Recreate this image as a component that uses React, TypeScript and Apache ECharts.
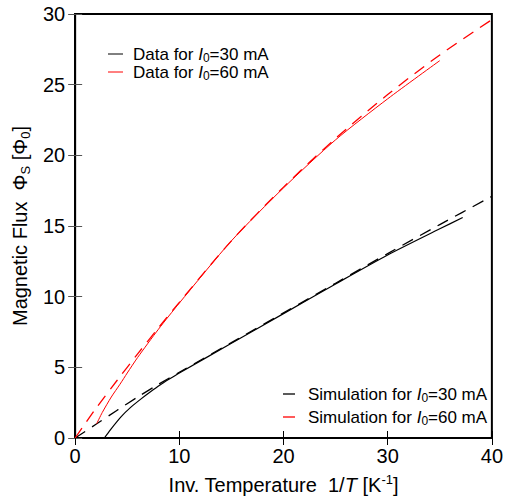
import React, { useEffect, useRef } from "react";
import * as echarts from "echarts";

const xTickValues = [0, 10, 20, 30, 40];
const yTickValues = [0, 5, 10, 15, 20, 25, 30];

const sim30X = [0, 2, 4, 6, 8, 10, 15, 20, 25, 30, 35, 40];
const sim30Y = [0, 0.97, 1.95, 2.9, 3.8, 4.65, 6.75, 8.85, 10.95, 13.05, 15.1, 17.1];

const data30X = [2.8, 3.4, 4.4, 5.3, 6.3, 7.2, 8.15, 9, 10, 15, 20, 25, 30, 35, 37.2];
const data30Y = [0, 0.6, 1.5, 2.15, 2.75, 3.25, 3.75, 4.15, 4.6, 6.7, 8.8, 10.9, 12.95, 14.8, 15.6];

const sim60X = [0, 2, 4, 6, 8, 10, 15, 20, 25, 30, 35, 40];
const sim60Y = [0, 2.1, 4.05, 5.95, 7.8, 9.6, 13.95, 17.75, 21.2, 24.3, 27.1, 29.6];

const data60X = [2.06, 2.6, 3.47, 4.3, 5, 6, 8, 10, 15, 20, 25, 30, 35];
const data60Y = [1.0, 1.8, 2.9, 3.8, 4.6, 5.7, 7.7, 9.55, 13.95, 17.7, 21.1, 24.0, 26.7];

const FONT = "Liberation Sans, Arial, sans-serif";

function pairs(xs: number[], ys: number[]) {
  return xs.map((x, i) => [x, ys[i]]);
}

const rich = (color: string, size: number) => ({
  n: { fontSize: size, fontFamily: FONT, color, lineHeight: 20, verticalAlign: "middle" },
  i: { fontSize: size, fontFamily: FONT, color, fontStyle: "italic", lineHeight: 20, verticalAlign: "middle" },
  s: { fontSize: 12, fontFamily: FONT, color, lineHeight: 12, padding: [10, 0, 0, 0], verticalAlign: "bottom" },
});

export default function App() {
  const ref = useRef<HTMLDivElement>(null);
  useEffect(() => {
    if (!ref.current) return;
    const chart = echarts.init(ref.current, null, { renderer: "svg" });
    const legendItem = (y: number, color: string, dashed: boolean, label: string, lx0: number, lx1: number, tx: number) => [
      {
        type: "line",
        shape: { x1: lx0, y1: y, x2: lx1, y2: y },
        style: { stroke: color, lineWidth: dashed ? 1.3 : 1, lineDash: dashed ? [12, 8] : null },
        silent: true,
      },
      {
        type: "text",
        x: tx,
        y: y,
        style: {
          text: label,
          rich: rich(color, 17),
          verticalAlign: "middle",
          align: "left",
        },
        silent: true,
      },
    ];
    chart.setOption({
      animation: false,
      backgroundColor: "#ffffff",
      grid: { left: 73, right: 6, top: 14, bottom: 59, show: true, borderColor: "#000", borderWidth: 2 },
      xAxis: [
        {
          type: "value",
          min: 0,
          max: 40,
          interval: 10,
          position: "bottom",
          axisLine: { show: true, lineStyle: { color: "#000", width: 2 } },
          axisTick: { show: true, inside: true, length: 7, lineStyle: { color: "#000", width: 1 } },
          splitLine: { show: false },
          axisLabel: {
            fontSize: 20,
            fontFamily: FONT,
            color: "#000",
            margin: 8,
            formatter: (v: number) => (xTickValues.includes(v) ? String(v) : ""),
          },
          name: "{n|Inv. Temperature  1/}{i|T}{n| [K}{p|-1}{n|]}",
          nameLocation: "middle",
          nameGap: 35,
          nameTextStyle: {
            fontSize: 20,
            fontFamily: FONT,
            color: "#000",
            rich: {
              n: { fontSize: 20, fontFamily: FONT, color: "#000", lineHeight: 24, verticalAlign: "middle" },
              i: { fontSize: 20, fontFamily: FONT, color: "#000", fontStyle: "italic", lineHeight: 24, verticalAlign: "middle" },
              p: { fontSize: 13, fontFamily: FONT, color: "#000", lineHeight: 13, padding: [0, 0, 9, 0], verticalAlign: "top" },
            },
          },
        },
        {
          type: "value",
          min: 0,
          max: 40,
          interval: 10,
          position: "top",
          axisLine: { show: true, lineStyle: { color: "#000", width: 2 } },
          axisTick: { show: true, inside: true, length: 7, lineStyle: { color: "#000", width: 1 } },
          splitLine: { show: false },
          axisLabel: { show: false },
        },
      ],
      yAxis: [
        {
          type: "value",
          min: 0,
          max: 30,
          interval: 5,
          position: "left",
          axisLine: { show: true, lineStyle: { color: "#000", width: 2 } },
          axisTick: { show: true, inside: true, length: 7, lineStyle: { color: "#555", width: 1 } },
          splitLine: { show: false },
          axisLabel: {
            fontSize: 20,
            fontFamily: FONT,
            color: "#000",
            margin: 10,
            formatter: (v: number) => (yTickValues.includes(v) ? String(v) : ""),
          },
          name: "{n|Magnetic Flux  Φ}{s|S}{n| [Φ}{s|0}{n|]}",
          nameLocation: "middle",
          nameRotate: 90,
          nameGap: 43,
          nameTextStyle: {
            fontSize: 20,
            fontFamily: FONT,
            color: "#000",
            rich: {
              n: { fontSize: 20, fontFamily: FONT, color: "#000", lineHeight: 24, verticalAlign: "middle" },
              s: { fontSize: 13, fontFamily: FONT, color: "#000", lineHeight: 13, padding: [11, 0, 0, 0], verticalAlign: "bottom" },
            },
          },
        },
        {
          type: "value",
          min: 0,
          max: 30,
          interval: 5,
          position: "right",
          axisLine: { show: true, lineStyle: { color: "#000", width: 2 } },
          axisTick: { show: true, inside: true, length: 7, lineStyle: { color: "#555", width: 1 } },
          splitLine: { show: false },
          axisLabel: { show: false },
        },
      ],
      series: [
        {
          name: "Simulation for I0=30 mA",
          type: "line",
          data: pairs(sim30X, sim30Y),
          smooth: 0.3,
          showSymbol: false,
          symbol: "none",
          lineStyle: { color: "#000", width: 1.3, type: [12, 8] },
          z: 2,
        },
        {
          name: "Data for I0=30 mA",
          type: "line",
          data: pairs(data30X, data30Y),
          smooth: 0.25,
          showSymbol: false,
          symbol: "none",
          lineStyle: { color: "#000", width: 1.2 },
          z: 3,
        },
        {
          name: "Simulation for I0=60 mA",
          type: "line",
          data: pairs(sim60X, sim60Y),
          smooth: 0.3,
          showSymbol: false,
          symbol: "none",
          lineStyle: { color: "#ff0000", width: 1.3, type: [12, 8] },
          z: 2,
        },
        {
          name: "Data for I0=60 mA",
          type: "line",
          data: pairs(data60X, data60Y),
          smooth: 0.25,
          showSymbol: false,
          symbol: "none",
          lineStyle: { color: "#ff0000", width: 1 },
          z: 3,
        },
      ],
      graphic: [
        ...legendItem(54, "#000", false, "{n|Data for }{i|I}{s|0}{n|=30 mA}", 108, 123, 133),
        ...legendItem(72, "#ff0000", false, "{n|Data for }{i|I}{s|0}{n|=60 mA}", 108, 123, 133),
        ...legendItem(394, "#000", true, "{n|Simulation for }{i|I}{s|0}{n|=30 mA}", 283, 297, 308),
        ...legendItem(417, "#ff0000", true, "{n|Simulation for }{i|I}{s|0}{n|=60 mA}", 283, 297, 308),
      ],
    });
    return () => chart.dispose();
  }, []);
  return <div ref={ref} style={{ width: 506, height: 500, position: "absolute", left: 0, top: 0 }} />;
}
